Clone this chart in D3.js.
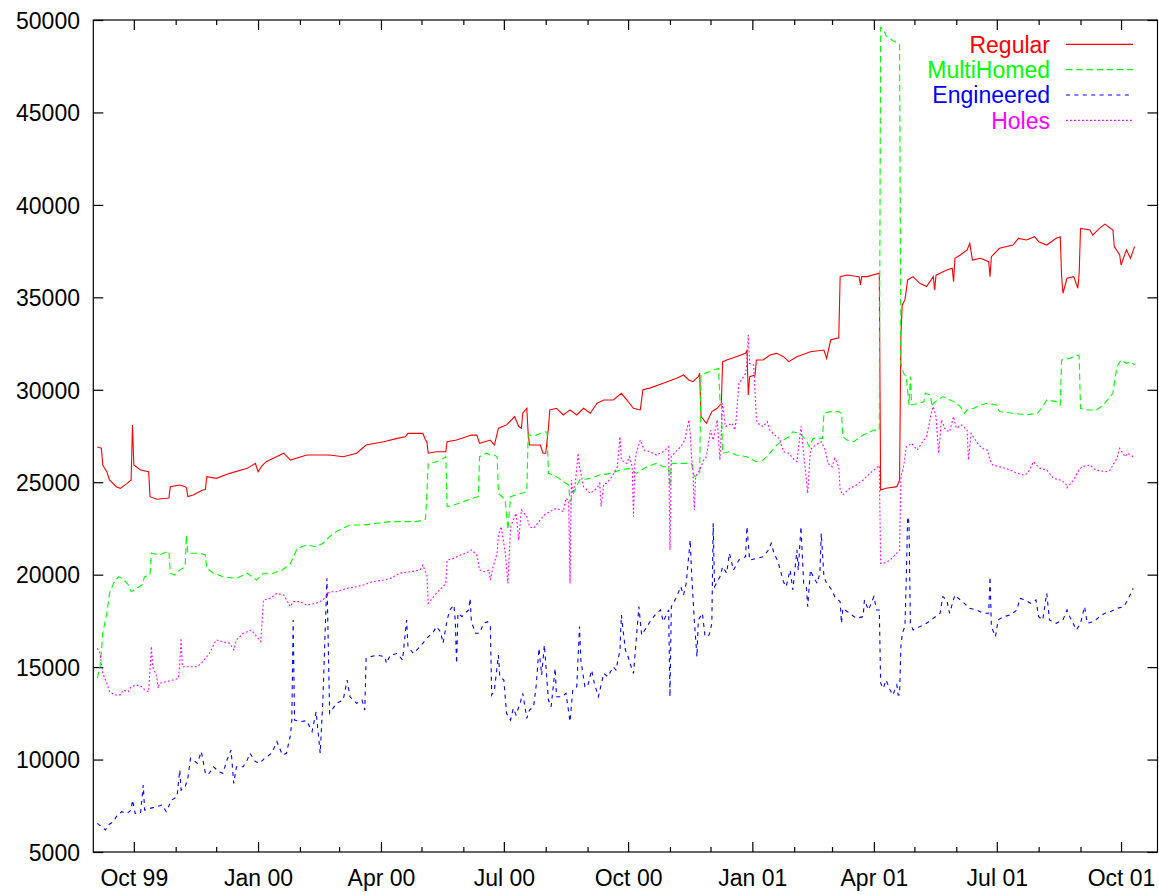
<!DOCTYPE html>
<html>
<head>
<meta charset="utf-8">
<script src="https://cdn.jsdelivr.net/npm/d3@7"></script>
<style>
  body { margin: 0; background: #fff; }
  svg text { font-family: "Liberation Sans", Arial, Helvetica, sans-serif; font-size: 23px; }
</style>
</head>
<body>
<svg id="chart" width="1159" height="895"></svg>
<script>
// Routing table prefix counts, by category, Sep 1999 - Oct 2001
const seriesNames = ["Regular", "MultiHomed", "Engineered", "Holes"];
const xDomain = ["1999-09-01", "2001-10-28"];
const yDomain = [5000, 50000];
const yTicks = [5000, 10000, 15000, 20000, 25000, 30000, 35000, 40000, 45000, 50000];
const xMajorTicks = ["1999-10-01", "2000-01-01", "2000-04-01", "2000-07-01", "2000-10-01",
                     "2001-01-01", "2001-04-01", "2001-07-01", "2001-10-01"];

const regular = [
["1999-09-04",26900],["1999-09-07",26840],["1999-09-08",25930],["1999-09-11",25570],["1999-09-13",25120],
["1999-09-18",24760],["1999-09-21",24670],["1999-09-26",24940],["1999-09-29",25120],["1999-09-30",28100],
["1999-10-01",25930],["1999-10-06",25660],["1999-10-12",25570],["1999-10-13",24220],["1999-10-18",24080],
["1999-10-25",24130],["1999-10-27",24150],["1999-10-28",24760],["1999-11-04",24850],["1999-11-08",24760],
["1999-11-09",24700],["1999-11-10",24220],["1999-11-14",24310],["1999-11-21",24580],["1999-11-23",24600],
["1999-11-24",25300],["1999-12-01",25210],["1999-12-11",25480],["1999-12-24",25750],["1999-12-30",26020],
["2000-01-01",25570],["2000-01-04",25900],["2000-01-07",26110],["2000-01-20",26570],["2000-01-25",26200],
["2000-02-06",26470],["2000-02-23",26470],["2000-03-04",26380],["2000-03-14",26570],["2000-03-21",27010],
["2000-04-03",27190],["2000-04-13",27370],["2000-04-19",27460],["2000-04-21",27640],["2000-05-02",27640],
["2000-05-04",27280],["2000-05-05",27200],["2000-05-06",26570],["2000-05-12",26650],["2000-05-19",26650],
["2000-05-20",27190],["2000-05-27",27280],["2000-06-07",27550],["2000-06-11",27550],["2000-06-13",27100],
["2000-06-21",27280],["2000-06-24",27010],["2000-06-27",27920],["2000-07-03",28100],["2000-07-09",28550],
["2000-07-12",28010],["2000-07-14",27920],["2000-07-15",28730],["2000-07-18",29000],["2000-07-19",27640],
["2000-07-20",27010],["2000-07-28",27010],["2000-07-30",26570],["2000-08-01",26570],["2000-08-03",27920],
["2000-08-04",28910],["2000-08-09",29000],["2000-08-14",28640],["2000-08-19",28910],["2000-08-24",28640],
["2000-08-29",29000],["2000-09-03",28730],["2000-09-08",29270],["2000-09-13",29450],["2000-09-20",29450],
["2000-09-26",29810],["2000-09-30",29450],["2000-10-02",29270],["2000-10-05",29000],["2000-10-10",28910],
["2000-10-12",30000],["2000-10-17",30090],["2000-10-27",30350],["2000-11-06",30620],["2000-11-11",30800],
["2000-11-15",30530],["2000-11-18",30440],["2000-11-22",30710],["2000-11-23",30890],["2000-11-24",28550],
["2000-11-28",28190],["2000-12-02",28820],["2000-12-06",29000],["2000-12-08",29180],["2000-12-09",29200],
["2000-12-10",31520],["2000-12-13",31610],["2000-12-20",31790],["2000-12-27",31970],["2000-12-28",32150],
["2000-12-29",29720],["2000-12-30",30710],["2001-01-03",30800],["2001-01-04",31610],["2001-01-09",31610],
["2001-01-14",31880],["2001-01-19",31970],["2001-01-24",31790],["2001-01-28",31520],["2001-02-03",31790],
["2001-02-13",32060],["2001-02-23",32150],["2001-02-25",31700],["2001-02-28",32690],["2001-03-04",32780],
["2001-03-06",32800],["2001-03-07",36120],["2001-03-12",36210],["2001-03-21",36120],["2001-03-22",35670],
["2001-03-23",36120],["2001-03-27",36120],["2001-04-05",36300],["2001-04-06",24580],["2001-04-10",24670],
["2001-04-18",24760],["2001-04-20",25120],["2001-04-21",32960],["2001-04-22",34590],["2001-04-24",34860],
["2001-04-26",35940],["2001-04-30",36120],["2001-05-05",35760],["2001-05-10",35580],["2001-05-15",36120],
["2001-05-16",35400],["2001-05-17",36200],["2001-05-20",36300],["2001-05-25",36480],["2001-05-29",36570],
["2001-05-30",35850],["2001-05-31",37110],["2001-06-04",37290],["2001-06-09",37560],["2001-06-11",37920],
["2001-06-13",37020],["2001-06-19",37110],["2001-06-25",36930],["2001-06-26",36120],["2001-06-27",37200],
["2001-07-03",37650],["2001-07-13",37830],["2001-07-17",38190],["2001-07-23",38100],["2001-07-29",38280],
["2001-08-01",38010],["2001-08-07",37830],["2001-08-14",38190],["2001-08-17",38280],["2001-08-18",36120],
["2001-08-19",35220],["2001-08-22",36030],["2001-08-27",36120],["2001-08-30",35490],["2001-08-31",36300],
["2001-09-01",38730],["2001-09-08",38640],["2001-09-10",38370],["2001-09-15",38730],["2001-09-19",38960],
["2001-09-25",38640],["2001-09-26",37740],["2001-09-30",37290],["2001-10-01",36750],["2001-10-05",37560],
["2001-10-08",37110],["2001-10-11",37740]
];

const multiHomed = [
["1999-09-04",14400],["1999-09-06",15020],["1999-09-08",16830],["1999-09-11",17910],["1999-09-13",18990],
["1999-09-17",19710],["1999-09-20",19890],["1999-09-22",19800],["1999-09-24",19710],["1999-09-27",19440],
["1999-09-29",19080],["1999-10-03",19260],["1999-10-07",19440],["1999-10-09",19890],["1999-10-13",19980],
["1999-10-14",21160],["1999-10-20",21070],["1999-10-26",21250],["1999-10-27",21250],["1999-10-28",20080],
["1999-10-31",19980],["1999-11-04",20250],["1999-11-08",20430],["1999-11-09",22150],["1999-11-10",21160],
["1999-11-14",21160],["1999-11-19",21160],["1999-11-23",21070],["1999-11-24",20350],["1999-11-29",20080],
["1999-12-06",19890],["1999-12-16",19800],["1999-12-24",20080],["1999-12-31",19710],["2000-01-05",20080],
["2000-01-12",20080],["2000-01-19",20250],["2000-01-25",20610],["2000-01-30",21420],["2000-02-06",21610],
["2000-02-13",21510],["2000-02-18",21700],["2000-02-23",22060],["2000-02-28",22330],["2000-03-09",22690],
["2000-03-19",22690],["2000-03-29",22780],["2000-04-08",22870],["2000-04-27",22870],["2000-05-03",22960],
["2000-05-04",23000],["2000-05-05",24400],["2000-05-06",26020],["2000-05-12",26110],["2000-05-15",26200],
["2000-05-19",26380],["2000-05-20",23680],["2000-05-25",23770],["2000-06-01",23950],["2000-06-08",24130],
["2000-06-12",24220],["2000-06-13",26380],["2000-06-18",26570],["2000-06-21",26470],["2000-06-24",26470],
["2000-06-26",26380],["2000-06-27",24400],["2000-07-02",24040],["2000-07-04",22420],["2000-07-06",24220],
["2000-07-10",24310],["2000-07-18",24490],["2000-07-19",27550],["2000-07-25",27550],["2000-07-31",27730],
["2000-08-02",27700],["2000-08-03",25480],["2000-08-09",25300],["2000-08-14",25030],["2000-08-18",24850],
["2000-08-19",23950],["2000-08-21",24310],["2000-08-26",25120],["2000-09-03",25210],["2000-09-10",25390],
["2000-09-18",25480],["2000-09-25",25660],["2000-10-02",25750],["2000-10-07",25480],["2000-10-15",25840],
["2000-10-22",26020],["2000-10-27",25840],["2000-10-31",25840],["2000-11-01",24760],["2000-11-02",26000],
["2000-11-06",26020],["2000-11-13",26020],["2000-11-17",26000],["2000-11-19",25300],["2000-11-22",25400],
["2000-11-23",25500],["2000-11-24",30800],["2000-11-30",30980],["2000-12-07",31160],["2000-12-08",29450],
["2000-12-09",29450],["2000-12-10",26570],["2000-12-15",26650],["2000-12-20",26470],["2000-12-28",26380],
["2001-01-04",26110],["2001-01-09",26200],["2001-01-14",26570],["2001-01-19",27010],["2001-01-24",27280],
["2001-01-28",27460],["2001-01-31",27730],["2001-02-05",27640],["2001-02-10",27280],["2001-02-12",26920],
["2001-02-15",27370],["2001-02-22",27370],["2001-02-23",28730],["2001-02-28",28820],["2001-03-06",28820],
["2001-03-08",28730],["2001-03-09",27460],["2001-03-12",27280],["2001-03-17",27190],["2001-03-24",27550],
["2001-04-01",27820],["2001-04-05",27820],["2001-04-06",49600],["2001-04-08",49510],["2001-04-10",49150],
["2001-04-15",48880],["2001-04-20",48700],["2001-04-21",31430],["2001-04-23",30890],["2001-04-25",30710],
["2001-04-27",29180],["2001-04-28",30710],["2001-04-29",29180],["2001-05-05",29270],["2001-05-08",29360],
["2001-05-09",29810],["2001-05-13",29720],["2001-05-14",29090],["2001-05-15",29270],["2001-05-22",29630],
["2001-05-30",29360],["2001-06-04",29090],["2001-06-07",28730],["2001-06-09",28910],["2001-06-14",29000],
["2001-06-19",29180],["2001-06-24",29270],["2001-07-01",29180],["2001-07-03",28820],["2001-07-13",28730],
["2001-07-23",28640],["2001-07-31",28730],["2001-08-04",29090],["2001-08-07",29450],["2001-08-14",29360],
["2001-08-17",29180],["2001-08-18",31610],["2001-08-24",31700],["2001-08-30",31880],["2001-08-31",31790],
["2001-09-01",29000],["2001-09-05",28910],["2001-09-13",28910],["2001-09-18",29180],["2001-09-23",29630],
["2001-09-25",29810],["2001-09-26",30350],["2001-09-28",31250],["2001-10-01",31610],["2001-10-05",31430],
["2001-10-08",31520],["2001-10-11",31340]
];

const engineered = [
["1999-09-04",6550],["1999-09-07",6370],["1999-09-10",6190],["1999-09-12",6460],["1999-09-16",6640],
["1999-09-18",6910],["1999-09-22",7180],["1999-09-26",7090],["1999-09-29",7270],["1999-09-30",7810],
["1999-10-02",7090],["1999-10-06",7100],["1999-10-08",8620],["1999-10-09",7270],["1999-10-13",7360],
["1999-10-18",7450],["1999-10-22",7540],["1999-10-25",7180],["1999-10-29",7810],["1999-11-02",7990],
["1999-11-04",9440],["1999-11-05",8350],["1999-11-08",8530],["1999-11-10",8990],["1999-11-12",10070],
["1999-11-14",9980],["1999-11-17",9800],["1999-11-20",10430],["1999-11-23",9260],["1999-11-25",9170],
["1999-11-29",9610],["1999-12-03",9340],["1999-12-06",9260],["1999-12-09",9980],["1999-12-12",10520],
["1999-12-14",8710],["1999-12-16",9610],["1999-12-21",9610],["1999-12-24",9980],["1999-12-26",10340],
["1999-12-30",9890],["2000-01-02",9800],["2000-01-06",10070],["2000-01-11",10340],["2000-01-15",10970],
["2000-01-19",10250],["2000-01-22",10340],["2000-01-25",11330],["2000-01-26",12140],["2000-01-27",17550],
["2000-01-28",12140],["2000-02-01",12050],["2000-02-06",12100],["2000-02-10",11510],["2000-02-13",12590],
["2000-02-16",10340],["2000-02-18",13220],["2000-02-21",19800],["2000-02-23",12500],["2000-02-28",13040],
["2000-03-04",13220],["2000-03-07",14300],["2000-03-09",13400],["2000-03-14",13040],["2000-03-18",13220],
["2000-03-20",12680],["2000-03-21",15470],["2000-03-24",15560],["2000-03-29",15650],["2000-04-04",15560],
["2000-04-05",15200],["2000-04-08",15650],["2000-04-13",15740],["2000-04-17",15380],["2000-04-20",17550],
["2000-04-21",16110],["2000-04-25",15740],["2000-04-30",16110],["2000-05-05",16560],["2000-05-10",16920],
["2000-05-12",17190],["2000-05-15",16920],["2000-05-17",16290],["2000-05-20",17550],["2000-05-22",18090],
["2000-05-25",18360],["2000-05-26",17550],["2000-05-27",15200],["2000-05-28",17910],["2000-05-31",17730],
["2000-06-02",17910],["2000-06-05",18090],["2000-06-06",18720],["2000-06-07",17460],["2000-06-10",16830],
["2000-06-13",16830],["2000-06-16",17370],["2000-06-19",17460],["2000-06-21",17190],["2000-06-22",13490],
["2000-06-24",13760],["2000-06-27",15650],["2000-06-28",14480],["2000-07-01",14300],["2000-07-03",12500],
["2000-07-06",12140],["2000-07-08",12770],["2000-07-10",12410],["2000-07-13",13040],["2000-07-15",13580],
["2000-07-18",12230],["2000-07-20",12680],["2000-07-23",12860],["2000-07-25",14030],["2000-07-27",16020],
["2000-07-29",14570],["2000-07-31",16200],["2000-08-03",13220],["2000-08-05",12860],["2000-08-08",14940],
["2000-08-09",13400],["2000-08-13",13400],["2000-08-16",13580],["2000-08-19",12050],["2000-08-21",13760],
["2000-08-24",13940],["2000-08-26",17190],["2000-08-27",15380],["2000-08-30",13940],["2000-09-01",13940],
["2000-09-04",14840],["2000-09-06",14120],["2000-09-09",13400],["2000-09-13",14660],["2000-09-16",14480],
["2000-09-20",15020],["2000-09-22",14840],["2000-09-25",15920],["2000-09-26",17820],["2000-09-29",15920],
["2000-10-01",15560],["2000-10-04",14840],["2000-10-05",14660],["2000-10-07",16470],["2000-10-09",18270],
["2000-10-11",16740],["2000-10-15",17190],["2000-10-18",17550],["2000-10-22",17910],["2000-10-25",18090],
["2000-10-27",17460],["2000-10-31",18090],["2000-11-01",13400],["2000-11-02",18270],["2000-11-06",18810],
["2000-11-09",19350],["2000-11-11",18900],["2000-11-13",19530],["2000-11-16",21880],["2000-11-17",20080],
["2000-11-19",17550],["2000-11-21",15560],["2000-11-22",17550],["2000-11-25",17910],["2000-11-27",16650],
["2000-11-30",16740],["2000-12-02",17370],["2000-12-03",22780],["2000-12-04",19350],["2000-12-08",19890],
["2000-12-10",20430],["2000-12-13",20080],["2000-12-15",21160],["2000-12-18",20250],["2000-12-22",20790],
["2000-12-27",20970],["2000-12-28",22600],["2000-12-30",20790],["2001-01-04",20880],["2001-01-09",20970],
["2001-01-13",21340],["2001-01-15",21700],["2001-01-17",21160],["2001-01-20",20700],["2001-01-24",19620],
["2001-01-26",19350],["2001-01-29",20250],["2001-01-31",19170],["2001-02-03",21340],["2001-02-04",20250],
["2001-02-06",22600],["2001-02-08",19530],["2001-02-10",19350],["2001-02-11",18270],["2001-02-13",20250],
["2001-02-15",19890],["2001-02-18",19530],["2001-02-20",20080],["2001-02-21",22240],["2001-02-23",19900],
["2001-02-25",19530],["2001-03-01",19170],["2001-03-03",18810],["2001-03-07",18540],["2001-03-08",17370],
["2001-03-09",18180],["2001-03-14",17910],["2001-03-19",17640],["2001-03-24",17730],["2001-03-25",18630],
["2001-03-28",18090],["2001-04-01",18810],["2001-04-03",18090],["2001-04-05",18090],["2001-04-06",14130],
["2001-04-08",13850],["2001-04-10",14300],["2001-04-13",13760],["2001-04-15",13490],["2001-04-18",14030],
["2001-04-19",13490],["2001-04-20",13500],["2001-04-21",16110],["2001-04-22",16830],["2001-04-24",17190],
["2001-04-25",19890],["2001-04-26",23140],["2001-04-27",22780],["2001-04-28",17370],["2001-04-30",17010],
["2001-05-05",17190],["2001-05-10",17370],["2001-05-15",17640],["2001-05-20",17910],["2001-05-22",18810],
["2001-05-25",18630],["2001-05-27",17910],["2001-05-31",18900],["2001-06-04",18630],["2001-06-07",18450],
["2001-06-11",18180],["2001-06-16",18090],["2001-06-21",17910],["2001-06-25",17910],["2001-06-26",19890],
["2001-06-27",17190],["2001-06-30",16650],["2001-07-02",17550],["2001-07-06",17730],["2001-07-11",17820],
["2001-07-16",18090],["2001-07-18",18720],["2001-07-22",18630],["2001-07-26",18450],["2001-07-30",18630],
["2001-08-01",17730],["2001-08-04",17550],["2001-08-07",18990],["2001-08-09",17550],["2001-08-14",17370],
["2001-08-19",17550],["2001-08-22",18090],["2001-08-24",17730],["2001-08-29",17010],["2001-09-01",17370],
["2001-09-04",18270],["2001-09-06",17370],["2001-09-11",17460],["2001-09-15",17730],["2001-09-19",17910],
["2001-09-23",18000],["2001-09-28",18180],["2001-10-03",18270],["2001-10-06",18630],["2001-10-10",19260]
];

const holes = [
["1999-09-04",16020],["1999-09-06",15750],["1999-09-08",14670],["1999-09-11",14130],["1999-09-13",13670],
["1999-09-17",13490],["1999-09-21",13500],["1999-09-23",13760],["1999-09-27",13670],["1999-09-29",13940],
["1999-10-03",14030],["1999-10-07",13940],["1999-10-09",13760],["1999-10-12",13670],["1999-10-14",16110],
["1999-10-15",15020],["1999-10-18",14480],["1999-10-19",13850],["1999-10-20",14130],["1999-10-25",14210],
["1999-10-30",14300],["1999-11-03",14390],["1999-11-04",15210],["1999-11-05",16560],["1999-11-06",15020],
["1999-11-12",15020],["1999-11-17",15020],["1999-11-21",15290],["1999-11-26",15750],["1999-12-01",16470],
["1999-12-06",16380],["1999-12-11",16290],["1999-12-14",15930],["1999-12-16",16470],["1999-12-21",16830],
["1999-12-27",17010],["1999-12-31",16650],["2000-01-03",16380],["2000-01-05",18630],["2000-01-10",18720],
["2000-01-15",18990],["2000-01-20",18900],["2000-01-25",18270],["2000-01-27",18540],["2000-02-01",18540],
["2000-02-06",18360],["2000-02-13",18450],["2000-02-18",18630],["2000-02-23",19080],["2000-02-28",19080],
["2000-03-07",19260],["2000-03-14",19350],["2000-03-19",19440],["2000-03-26",19620],["2000-04-03",19710],
["2000-04-08",19800],["2000-04-15",20080],["2000-04-23",20160],["2000-04-30",20250],["2000-05-02",20520],
["2000-05-05",19980],["2000-05-06",18450],["2000-05-10",18810],["2000-05-13",19080],["2000-05-17",19350],
["2000-05-19",19530],["2000-05-20",20790],["2000-05-25",20880],["2000-05-30",21070],["2000-06-03",21160],
["2000-06-07",21340],["2000-06-11",21070],["2000-06-13",20250],["2000-06-17",20160],["2000-06-20",20250],
["2000-06-21",19710],["2000-06-23",20430],["2000-06-26",21160],["2000-06-27",22150],["2000-06-29",22600],
["2000-07-02",21200],["2000-07-04",19530],["2000-07-06",22600],["2000-07-10",23320],["2000-07-12",21880],
["2000-07-14",23500],["2000-07-18",23140],["2000-07-20",22600],["2000-07-23",22510],["2000-07-28",22960],
["2000-07-31",23230],["2000-08-04",23410],["2000-08-09",23590],["2000-08-14",23410],["2000-08-16",24130],
["2000-08-18",24000],["2000-08-19",19530],["2000-08-20",25120],["2000-08-21",24400],["2000-08-23",25000],
["2000-08-25",26570],["2000-08-26",25840],["2000-08-29",24760],["2000-09-03",24400],["2000-09-08",24670],
["2000-09-10",24940],["2000-09-11",23680],["2000-09-13",24900],["2000-09-15",24940],["2000-09-19",25300],
["2000-09-23",25840],["2000-09-25",27460],["2000-09-26",26200],["2000-09-30",26020],["2000-10-02",26380],
["2000-10-04",25840],["2000-10-05",23140],["2000-10-06",26000],["2000-10-07",26570],["2000-10-10",27280],
["2000-10-13",26740],["2000-10-17",26650],["2000-10-22",26470],["2000-10-27",26650],["2000-10-31",26920],
["2000-11-01",21340],["2000-11-02",26400],["2000-11-09",26920],["2000-11-12",27280],["2000-11-15",28370],
["2000-11-16",27640],["2000-11-17",26380],["2000-11-18",25660],["2000-11-19",23500],["2000-11-20",25300],
["2000-11-23",25660],["2000-11-26",26200],["2000-11-28",26380],["2000-12-01",27820],["2000-12-03",27280],
["2000-12-06",28370],["2000-12-08",26200],["2000-12-10",29270],["2000-12-12",28010],["2000-12-17",28190],
["2000-12-19",27820],["2000-12-20",28370],["2000-12-22",30350],["2000-12-24",30530],["2000-12-27",30890],
["2000-12-28",31430],["2000-12-29",32960],["2000-12-30",31430],["2001-01-02",31340],["2001-01-04",28370],
["2001-01-05",28190],["2001-01-09",28010],["2001-01-12",28280],["2001-01-14",27820],["2001-01-19",27460],
["2001-01-21",27370],["2001-01-24",26650],["2001-01-28",26570],["2001-01-31",26290],["2001-02-03",26110],
["2001-02-06",28010],["2001-02-08",26570],["2001-02-11",24400],["2001-02-13",26740],["2001-02-15",26920],
["2001-02-21",27190],["2001-02-24",26740],["2001-02-26",26020],["2001-03-01",25840],["2001-03-03",26290],
["2001-03-06",25840],["2001-03-07",24580],["2001-03-09",24310],["2001-03-14",24670],["2001-03-19",24850],
["2001-03-24",25120],["2001-03-29",25480],["2001-04-04",25840],["2001-04-05",25900],["2001-04-06",20610],
["2001-04-08",20610],["2001-04-13",20790],["2001-04-19",21250],["2001-04-20",21300],["2001-04-21",25300],
["2001-04-23",25840],["2001-04-25",26920],["2001-04-29",27100],["2001-05-03",26740],["2001-05-08",27280],
["2001-05-10",27460],["2001-05-14",28910],["2001-05-15",29090],["2001-05-17",28550],["2001-05-19",26570],
["2001-05-21",28370],["2001-05-24",27820],["2001-05-27",27730],["2001-05-30",28550],["2001-06-01",27920],
["2001-06-05",28100],["2001-06-09",27820],["2001-06-10",26200],["2001-06-12",27640],["2001-06-16",27190],
["2001-06-20",26830],["2001-06-24",26740],["2001-06-26",26200],["2001-06-28",25930],["2001-07-03",25840],
["2001-07-11",25660],["2001-07-16",25480],["2001-07-21",25390],["2001-07-24",25480],["2001-07-28",26110],
["2001-08-02",25750],["2001-08-07",25660],["2001-08-12",25210],["2001-08-17",25120],["2001-08-21",24940],
["2001-08-22",24700],["2001-08-27",25120],["2001-08-30",25570],["2001-09-02",25840],["2001-09-08",25930],
["2001-09-12",25660],["2001-09-20",25570],["2001-09-23",25660],["2001-09-25",25930],["2001-09-28",26290],
["2001-09-30",26830],["2001-10-04",26380],["2001-10-06",26570],["2001-10-10",26380]
];

// Drawing styles (kept separate from the data)
const styles = {
  Regular:    { color: "#ff0000", dash: null },
  MultiHomed: { color: "#00ff00", dash: "6.5,3.7" },
  Engineered: { color: "#0000ff", dash: "4,4.4" },
  Holes:      { color: "#ff00ff", dash: "1.8,2.2" }
};

const parse = d3.utcParse("%Y-%m-%d");
const seriesData = { Regular: regular, MultiHomed: multiHomed, Engineered: engineered, Holes: holes };

const plot = { left: 93.3, right: 1157.5, top: 20, bottom: 852 };

const svg = d3.select("#chart");

const x = d3.scaleUtc()
  .domain(xDomain.map(parse))
  .range([plot.left, plot.right]);
const y = d3.scaleLinear()
  .domain(yDomain)
  .range([plot.bottom, plot.top]);

const majorDates = xMajorTicks.map(parse);
const monthDates = d3.utcMonth.range(parse("1999-09-02"), parse("2001-10-28"));
const minorDates = monthDates.filter(d => !majorDates.some(m => +m === +d));
const fmt = d3.utcFormat("%b %y");

function styleAxis(g) {
  g.select(".domain").remove();
  g.selectAll(".tick line").attr("stroke", "#000").attr("stroke-width", 1.2);
  g.selectAll(".tick text").style("fill", "#000").attr("font-size", 23)
    .attr("font-family", "Liberation Sans, Arial, Helvetica, sans-serif");
}

// bottom axis: labelled quarter ticks plus monthly minor ticks
svg.append("g").attr("transform", `translate(0,${plot.bottom})`)
  .call(d3.axisBottom(x).tickValues(majorDates).tickFormat(fmt).tickSizeInner(-10).tickSizeOuter(0).tickPadding(17.5))
  .call(styleAxis);
svg.append("g").attr("transform", `translate(0,${plot.bottom})`)
  .call(d3.axisBottom(x).tickValues(minorDates).tickFormat("").tickSizeInner(-5).tickSizeOuter(0))
  .call(styleAxis);

// mirrored top ticks
svg.append("g").attr("transform", `translate(0,${plot.top})`)
  .call(d3.axisTop(x).tickValues(majorDates).tickFormat("").tickSizeInner(-10).tickSizeOuter(0))
  .call(styleAxis);
svg.append("g").attr("transform", `translate(0,${plot.top})`)
  .call(d3.axisTop(x).tickValues(minorDates).tickFormat("").tickSizeInner(-5).tickSizeOuter(0))
  .call(styleAxis);

// left axis with labels, right mirrored ticks
svg.append("g").attr("transform", `translate(${plot.left},0)`)
  .call(d3.axisLeft(y).tickValues(yTicks).tickFormat(d3.format("d")).tickSizeInner(-10).tickSizeOuter(0).tickPadding(13.3))
  .call(styleAxis)
  .call(g => g.selectAll(".tick text").attr("dy", "0.36em"));
svg.append("g").attr("transform", `translate(${plot.right},0)`)
  .call(d3.axisRight(y).tickValues(yTicks).tickFormat("").tickSizeInner(-10).tickSizeOuter(0))
  .call(styleAxis);

// border
svg.append("rect")
  .attr("x", plot.left).attr("y", plot.top)
  .attr("width", plot.right - plot.left).attr("height", plot.bottom - plot.top)
  .attr("fill", "none").attr("stroke", "#000").attr("stroke-width", 1.2);

// series
const line = d3.line()
  .x(d => x(parse(d[0])))
  .y(d => y(d[1]));

seriesNames.forEach(name => {
  svg.append("path")
    .datum(seriesData[name])
    .attr("d", line)
    .attr("fill", "none")
    .attr("stroke", styles[name].color)
    .attr("stroke-width", 1.1)
    .attr("stroke-dasharray", styles[name].dash);
});

// legend
const legend = svg.append("g");
seriesNames.forEach((name, i) => {
  const ly = 44.3 + i * 25.35;
  legend.append("text")
    .attr("x", 1050).attr("y", ly).attr("dy", "0.36em")
    .attr("text-anchor", "end")
    .style("fill", styles[name].color)
    .text(name);
  legend.append("line")
    .attr("x1", 1066).attr("x2", 1133).attr("y1", ly).attr("y2", ly)
    .attr("stroke", styles[name].color)
    .attr("stroke-width", 1.2)
    .attr("stroke-dasharray", styles[name].dash);
});
</script>
</body>
</html>
